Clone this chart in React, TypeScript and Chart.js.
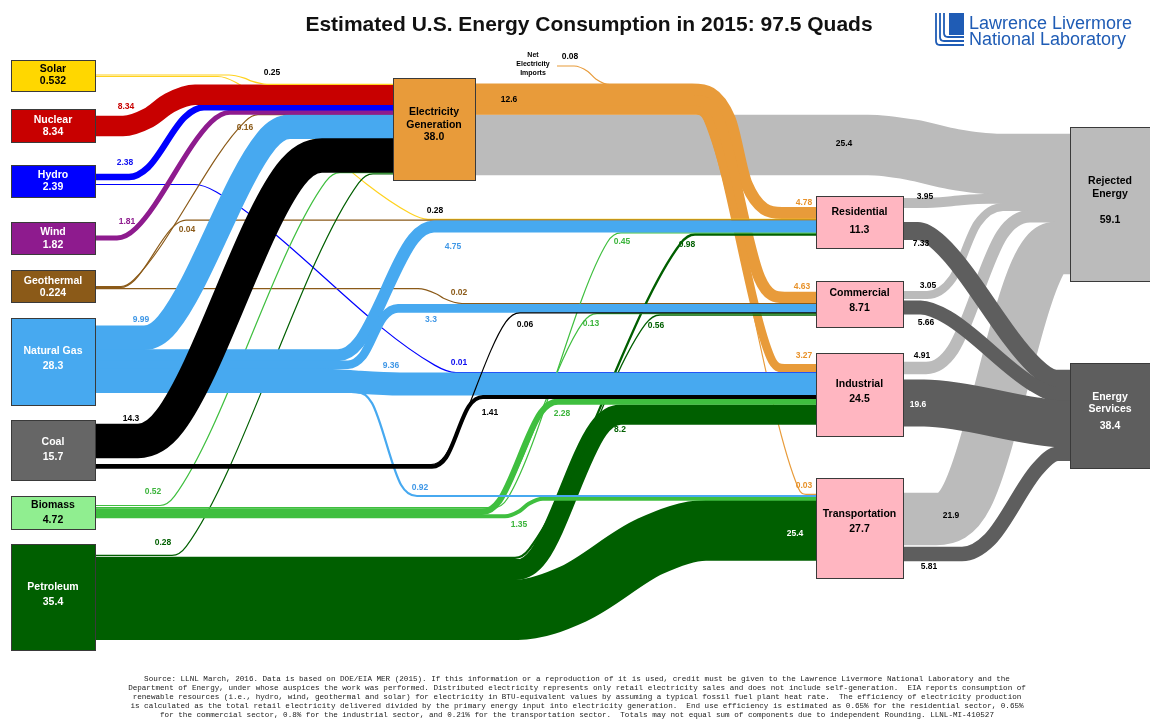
import React, { useEffect, useRef } from 'react';
import { Chart, registerables } from 'chart.js';

Chart.register(...registerables);

// ---------------- DATA (quads) ----------------
const NODES = ['Solar', 'Nuclear', 'Hydro', 'Wind', 'Geothermal', 'Natural Gas', 'Coal', 'Biomass', 'Petroleum',
  'Electricity Generation', 'Residential', 'Commercial', 'Industrial', 'Transportation',
  'Rejected Energy', 'Energy Services', 'Net Electricity Imports'];
const NODE_VALUES = [0.532, 8.34, 2.39, 1.82, 0.224, 28.3, 15.7, 4.72, 35.4,
  38.0, 11.3, 8.71, 24.5, 27.7, 59.1, 38.4, 0.08];

const FLOW_SOURCES = [
  'Electricity Generation', 'Net Electricity Imports', 'Electricity Generation', 'Electricity Generation', 'Electricity Generation', 'Electricity Generation',
  'Solar', 'Hydro', 'Geothermal', 'Geothermal', 'Geothermal',
  'Petroleum', 'Petroleum', 'Petroleum', 'Petroleum', 'Petroleum',
  'Biomass', 'Biomass', 'Biomass', 'Biomass', 'Biomass',
  'Natural Gas', 'Natural Gas', 'Natural Gas', 'Natural Gas', 'Natural Gas',
  'Coal', 'Coal', 'Coal',
  'Wind', 'Hydro', 'Nuclear', 'Solar',
  'Residential', 'Commercial', 'Industrial', 'Transportation',
  'Residential', 'Commercial', 'Industrial', 'Transportation'];
const FLOW_TARGETS = [
  'Rejected Energy', 'Electricity Generation', 'Residential', 'Commercial', 'Industrial', 'Transportation',
  'Residential', 'Industrial', 'Electricity Generation', 'Residential', 'Commercial',
  'Transportation', 'Industrial', 'Residential', 'Commercial', 'Electricity Generation',
  'Electricity Generation', 'Residential', 'Commercial', 'Industrial', 'Transportation',
  'Electricity Generation', 'Residential', 'Commercial', 'Industrial', 'Transportation',
  'Electricity Generation', 'Industrial', 'Commercial',
  'Electricity Generation', 'Electricity Generation', 'Electricity Generation', 'Electricity Generation',
  'Rejected Energy', 'Rejected Energy', 'Rejected Energy', 'Rejected Energy',
  'Energy Services', 'Energy Services', 'Energy Services', 'Energy Services'];
const FLOW_VALUES = [
  25.4, 0.08, 4.78, 4.63, 3.27, 0.03,
  0.28, 0.01, 0.16, 0.04, 0.02,
  25.4, 8.2, 0.98, 0.56, 0.28,
  0.52, 0.45, 0.13, 2.28, 1.35,
  9.99, 4.75, 3.3, 9.36, 0.92,
  14.3, 1.41, 0.06,
  1.81, 2.38, 8.34, 0.25,
  3.95, 3.05, 4.91, 21.9,
  7.33, 5.66, 19.6, 5.81];
const ELECTRICITY_DELIVERED = 12.6;

const TITLE = 'Estimated U.S. Energy Consumption in 2015: 97.5 Quads';
const FOOTNOTE = [
  'Source: LLNL March, 2016. Data is based on DOE/EIA MER (2015). If this information or a reproduction of it is used, credit must be given to the Lawrence Livermore National Laboratory and the',
  'Department of Energy, under whose auspices the work was performed. Distributed electricity represents only retail electricity sales and does not include self-generation.  EIA reports consumption of',
  'renewable resources (i.e., hydro, wind, geothermal and solar) for electricity in BTU-equivalent values by assuming a typical fossil fuel plant heat rate.  The efficiency of electricity production',
  'is calculated as the total retail electricity delivered divided by the primary energy input into electricity generation.  End use efficiency is estimated as 0.65% for the residential sector, 0.65%',
  'for the commercial sector, 0.8% for the industrial sector, and 0.21% for the transportation sector.  Totals may not equal sum of components due to independent Rounding. LLNL-MI-410527',
];

// ---------------- LAYOUT (axis units) ----------------
const W = 1150;
const H = 719;
const QUAD = 2.36; // axis units of band thickness per quad

type Box = { x0: number; y0: number; x1: number; y1: number; fill: string; ink: string; rows: number[]; split?: boolean };
const NODE_LAYOUT: Record<string, Box> = {
  'Solar': { x0: 11, y0: 60, x1: 95, y1: 91, fill: '#FFD700', ink: '#000', rows: [69.5, 81.5] },
  'Nuclear': { x0: 11, y0: 109, x1: 95, y1: 142, fill: '#C80000', ink: '#fff', rows: [120.5, 132.5] },
  'Hydro': { x0: 11, y0: 165, x1: 95, y1: 197, fill: '#0000FF', ink: '#fff', rows: [175, 187] },
  'Wind': { x0: 11, y0: 222, x1: 95, y1: 254, fill: '#8E1B8E', ink: '#fff', rows: [232, 245] },
  'Geothermal': { x0: 11, y0: 270, x1: 95, y1: 302, fill: '#8B5A18', ink: '#fff', rows: [281, 293.5] },
  'Natural Gas': { x0: 11, y0: 318, x1: 95, y1: 405, fill: '#47A9F0', ink: '#fff', rows: [351, 366] },
  'Coal': { x0: 11, y0: 420, x1: 95, y1: 480, fill: '#666666', ink: '#fff', rows: [442, 457] },
  'Biomass': { x0: 11, y0: 496, x1: 95, y1: 529, fill: '#90EE90', ink: '#000', rows: [505, 520] },
  'Petroleum': { x0: 11, y0: 544, x1: 95, y1: 650, fill: '#005F00', ink: '#fff', rows: [587, 602] },
  'Electricity Generation': { x0: 393, y0: 78, x1: 475, y1: 180, fill: '#E89B3A', ink: '#000', rows: [112, 125, 137.5], split: true },
  'Residential': { x0: 816, y0: 196, x1: 903, y1: 248, fill: '#FFB6C1', ink: '#000', rows: [212, 230] },
  'Commercial': { x0: 816, y0: 281, x1: 903, y1: 327, fill: '#FFB6C1', ink: '#000', rows: [293.5, 308.5] },
  'Industrial': { x0: 816, y0: 353, x1: 903, y1: 436, fill: '#FFB6C1', ink: '#000', rows: [384, 399.5] },
  'Transportation': { x0: 816, y0: 478, x1: 903, y1: 578, fill: '#FFB6C1', ink: '#000', rows: [514, 529] },
  'Rejected Energy': { x0: 1070, y0: 127, x1: 1156, y1: 281, fill: '#BBBBBB', ink: '#000', rows: [181, 194.5, 220], split: true },
  'Energy Services': { x0: 1070, y0: 363, x1: 1156, y1: 468, fill: '#5E5E5E', ink: '#fff', rows: [397, 409.5, 426], split: true },
};
const IMPORTS_TEXT = { x: 533, rows: [55, 64, 73], lines: ['Net', 'Electricity', 'Imports'] };

const SOURCE_COLOR: Record<string, string> = {
  'Solar': '#FFD21F', 'Nuclear': '#C80000', 'Hydro': '#0000FF', 'Wind': '#8E1B8E', 'Geothermal': '#8B5A18',
  'Natural Gas': '#47A9F0', 'Coal': '#000000', 'Biomass': '#3FBF3F', 'Petroleum': '#005F00',
  'Electricity Generation': '#E89B3A', 'Net Electricity Imports': '#E89B3A',
};
const LABEL_COLOR: Record<string, string> = {
  'Solar': '#000', 'Nuclear': '#C80000', 'Hydro': '#1010F0', 'Wind': '#8E1B8E', 'Geothermal': '#8B5A18',
  'Natural Gas': '#3F97E6', 'Coal': '#000', 'Biomass': '#3CB43C', 'Petroleum': '#005F00',
  'Electricity Generation': '#E8922A', 'Net Electricity Imports': '#000',
};

type Route = { pts: number[][]; r?: number; label: number[]; ink?: string };
const FLOW_ROUTES: Route[] = [
  { pts: [[475, 145], [890, 145], [975, 164], [1070, 164]], r: 22, label: [844, 144], ink: '#000' },
  { pts: [[557, 66], [582, 66], [602, 84.6], [628, 84.6]], r: 8, label: [570, 57] },
  { pts: [[475, 89.6], [722, 89.6], [754, 213], [816, 213]], r: 30, label: [804, 203] },
  { pts: [[475, 100.8], [713.4, 100.8], [764.6, 297.5], [816, 297.5]], r: 20, label: [802, 287] },
  { pts: [[475, 110], [706.2, 110], [773.4, 368.3], [816, 368.3]], r: 11, label: [804, 356] },
  { pts: [[475, 114.2], [702.7, 114.2], [800, 494.3], [816, 494.3]], r: 6, label: [804, 486] },
  { pts: [[95, 76.5], [228, 76.5], [418, 219.3], [816, 219.3]], r: 10, label: [435, 211] },
  { pts: [[95, 184.5], [207, 184.5], [444, 372.6], [816, 372.6]], r: 12, label: [459, 363] },
  { pts: [[95, 286.5], [129, 286.5], [250, 114.6], [393, 114.6]], r: 8, label: [245, 128] },
  { pts: [[95, 287.5], [129, 287.5], [178, 220.2], [816, 220.2]], r: 8, label: [187, 230] },
  { pts: [[95, 288.7], [428, 288.7], [452, 303.5], [816, 303.5]], r: 10, label: [459, 293] },
  { pts: [[95, 609.6], [548, 609.6], [676, 530.4], [816, 530.4]], r: 30, label: [795, 534], ink: '#fff' },
  { pts: [[95, 569.9], [532, 569.9], [605, 414.7], [816, 414.7]], r: 16, label: [620, 430] },
  { pts: [[95, 557.8], [525, 557.8], [685, 234.5], [816, 234.5]], r: 10, label: [687, 245] },
  { pts: [[95, 559.6], [530, 559.6], [650, 315], [816, 315]], r: 10, label: [656, 326] },
  { pts: [[95, 555.4], [182, 555.4], [363, 173.8], [393, 173.8]], r: 10, label: [163, 543] },
  { pts: [[95, 505.5], [170, 505.5], [330, 172.6], [393, 172.6]], r: 10, label: [153, 492] },
  { pts: [[95, 507.6], [504, 507.6], [611, 232.9], [816, 232.9]], r: 10, label: [622, 242] },
  { pts: [[95, 508.8], [496, 508.8], [587, 313.6], [816, 313.6]], r: 10, label: [591, 324] },
  { pts: [[95, 512], [494, 512], [546, 401.7], [816, 401.7]], r: 12, label: [562, 414] },
  { pts: [[95, 516.3], [513, 516.3], [535, 498.8], [816, 498.8]], r: 8, label: [519, 525] },
  { pts: [[95, 337.8], [160, 337.8], [274, 126.8], [393, 126.8]], r: 16, label: [141, 320] },
  { pts: [[95, 355.2], [352, 355.2], [420, 226.5], [816, 226.5]], r: 14, label: [453, 247] },
  { pts: [[95, 364.7], [358, 364.7], [388, 308.4], [816, 308.4]], r: 10, label: [431, 320] },
  { pts: [[95, 379.7], [330, 379.7], [380, 384], [816, 384]], r: 20, label: [391, 366] },
  { pts: [[95, 391.8], [368, 391.8], [405, 496], [816, 496]], r: 12, label: [420, 488] },
  { pts: [[95, 441], [160, 441], [300, 155.4], [393, 155.4]], r: 22, label: [131, 419] },
  { pts: [[95, 466.6], [442, 466.6], [473, 397], [816, 397]], r: 10, label: [490, 413] },
  { pts: [[95, 464.6], [441, 464.6], [510, 312.8], [816, 312.8]], r: 10, label: [525, 325] },
  { pts: [[95, 238], [129, 238], [218, 112.2], [393, 112.2]], r: 12, label: [127, 222] },
  { pts: [[95, 177], [141, 177], [192, 107.3], [393, 107.3]], r: 12, label: [125, 163] },
  { pts: [[95, 126], [137, 126], [181, 94.8], [393, 94.8]], r: 14, label: [126, 107] },
  { pts: [[95, 75], [237, 75], [259, 84.3], [393, 84.3]], r: 8, label: [272, 73] },
  { pts: [[903, 203], [935, 203], [975, 198.7], [1070, 198.7]], r: 14, label: [925, 197] },
  { pts: [[903, 295], [945, 295], [985, 207], [1070, 207]], r: 18, label: [928, 286] },
  { pts: [[903, 368], [945, 368], [1010, 216.3], [1070, 216.3]], r: 20, label: [922, 356] },
  { pts: [[903, 519], [960, 519], [1043, 248], [1070, 248]], r: 24, label: [951, 516] },
  { pts: [[903, 231], [930, 231], [1045, 378.7], [1070, 378.7]], r: 16, label: [921, 244] },
  { pts: [[903, 307.5], [935, 307.5], [1045, 394], [1070, 394]], r: 16, label: [926, 323] },
  { pts: [[903, 403], [940, 403], [1050, 423.7], [1070, 423.7]], r: 16, label: [918, 405], ink: '#fff' },
  { pts: [[903, 554], [980, 554], [1048, 453.8], [1070, 453.8]], r: 18, label: [929, 567] },
];
const DELIVERED_LABEL = [509, 100];

// ---------------- helpers ----------------
function withCorners(pts: number[][], r: number) {
  const out: { x: number; y: number }[] = [{ x: pts[0][0], y: pts[0][1] }];
  for (let i = 1; i < pts.length - 1; i++) {
    const [ax, ay] = pts[i - 1];
    const [cx, cy] = pts[i];
    const [nx, ny] = pts[i + 1];
    const lin = Math.hypot(cx - ax, cy - ay);
    const lout = Math.hypot(nx - cx, ny - cy);
    const din = Math.min(r, lin * 0.45);
    const dout = Math.min(r, lout * 0.45);
    out.push({ x: cx - ((cx - ax) / lin) * din, y: cy - ((cy - ay) / lin) * din });
    out.push({ x: cx + ((nx - cx) / lout) * dout, y: cy + ((ny - cy) / lout) * dout });
  }
  const last = pts[pts.length - 1];
  out.push({ x: last[0], y: last[1] });
  return out;
}

function quadPx(chart: any) {
  const y = chart && chart.scales && chart.scales.y;
  if (!y || !isFinite(y.getPixelForValue(QUAD))) return QUAD;
  return Math.abs(y.getPixelForValue(QUAD) - y.getPixelForValue(0));
}

function bandWidth(v: number, chart: any) {
  const w = v * quadPx(chart);
  if (w < 1.2) return 1.2;
  return w > 3 ? w + 0.8 : w; // small overlap hides anti-alias seams between stacked bands
}

function flowColor(i: number) {
  if (FLOW_TARGETS[i] === 'Rejected Energy') return '#BBBBBB';
  if (FLOW_TARGETS[i] === 'Energy Services') return '#5E5E5E';
  return SOURCE_COLOR[FLOW_SOURCES[i]];
}

function fmt(v: number) {
  return Number.isInteger(v) ? v.toFixed(1) : String(v);
}

const FONT = '"Liberation Sans", Arial, Helvetica, sans-serif';

const decor = {
  id: 'sankeyDecor',
  afterDatasetsDraw(chart: any) {
    const { ctx } = chart;
    const xs = chart.scales.x;
    const ys = chart.scales.y;
    const px = (v: number) => xs.getPixelForValue(v);
    const py = (v: number) => ys.getPixelForValue(v);
    ctx.save();

    // nodes
    NODES.forEach((name, i) => {
      const b = NODE_LAYOUT[name];
      if (!b) return;
      const x0 = px(b.x0), x1 = px(b.x1), y0 = py(b.y0), y1 = py(b.y1);
      ctx.fillStyle = b.fill;
      ctx.fillRect(x0, y0, x1 - x0, y1 - y0);
      ctx.strokeStyle = '#3a3a3a';
      ctx.lineWidth = 1;
      ctx.strokeRect(Math.round(x0) + 0.5, Math.round(y0) + 0.5, Math.round(x1 - x0), Math.round(y1 - y0));
      const lines = b.split ? [...name.split(' '), fmt(NODE_VALUES[i])] : [name, fmt(NODE_VALUES[i])];
      ctx.fillStyle = b.ink;
      ctx.font = `bold 10.5px ${FONT}`;
      ctx.textAlign = 'center';
      ctx.textBaseline = 'middle';
      const cx = (px(b.x0) + px(Math.min(b.x1, W))) / 2;
      lines.forEach((t, k) => ctx.fillText(t, cx, py(b.rows[k])));
    });

    // net imports caption
    ctx.fillStyle = '#000';
    ctx.font = `bold 7px ${FONT}`;
    ctx.textAlign = 'center';
    ctx.textBaseline = 'middle';
    IMPORTS_TEXT.lines.forEach((t, k) => ctx.fillText(t, px(IMPORTS_TEXT.x), py(IMPORTS_TEXT.rows[k])));

    // flow labels
    ctx.font = `bold 8.5px ${FONT}`;
    FLOW_VALUES.forEach((v, i) => {
      const r = FLOW_ROUTES[i];
      const src = FLOW_SOURCES[i];
      ctx.fillStyle = r.ink || LABEL_COLOR[src] || '#000';
      ctx.fillText(String(v), px(r.label[0]), py(r.label[1]));
    });
    ctx.fillStyle = '#000';
    ctx.fillText(String(ELECTRICITY_DELIVERED), px(DELIVERED_LABEL[0]), py(DELIVERED_LABEL[1]));

    // title
    ctx.font = `bold 21px ${FONT}`;
    ctx.textBaseline = 'alphabetic';
    ctx.fillStyle = '#111';
    ctx.fillText(TITLE, px(589), py(31));

    // logo
    const blue = '#1F5CB5';
    ctx.fillStyle = blue;
    ctx.fillRect(px(949), py(13), px(964) - px(949), py(35) - py(13));
    ctx.strokeStyle = blue;
    ctx.lineWidth = 1.8;
    for (let k = 0; k < 3; k++) {
      const lx = 936 + k * 4;
      const by = 45 - k * 4;
      ctx.beginPath();
      ctx.moveTo(px(lx), py(13));
      ctx.lineTo(px(lx), py(by - 4));
      ctx.quadraticCurveTo(px(lx), py(by), px(lx + 4), py(by));
      ctx.lineTo(px(964), py(by));
      ctx.stroke();
    }
    ctx.textAlign = 'left';
    ctx.font = `18px ${FONT}`;
    ctx.fillText('Lawrence Livermore', px(969), py(28.5));
    ctx.fillText('National Laboratory', px(969), py(45));

    // footnote
    ctx.fillStyle = '#222';
    ctx.textAlign = 'center';
    ctx.textBaseline = 'middle';
    ctx.font = `7.6px "Liberation Mono", "DejaVu Sans Mono", monospace`;
    FOOTNOTE.forEach((t, k) => ctx.fillText(t, px(577), py(679 + k * 9)));

    ctx.restore();
  },
};

export default function App() {
  const ref = useRef<HTMLCanvasElement>(null);
  useEffect(() => {
    const canvas = ref.current;
    if (!canvas) return;
    const datasets = FLOW_VALUES.map((v, i) => {
      const route = FLOW_ROUTES[i];
      return {
        label: `${FLOW_SOURCES[i]} → ${FLOW_TARGETS[i]}`,
        data: withCorners(route.pts, route.r ?? 12),
        borderColor: flowColor(i),
        backgroundColor: flowColor(i),
        borderWidth: (c: any) => bandWidth(v, c.chart),
        borderCapStyle: 'butt' as const,
        borderJoinStyle: 'round' as const,
        cubicInterpolationMode: 'monotone' as const,
        tension: 0,
        pointRadius: 0,
        pointHoverRadius: 0,
        pointHitRadius: 0,
        fill: false,
        order: -i,
      };
    });
    const chart = new Chart(canvas, {
      type: 'line',
      data: { datasets: datasets as any },
      options: {
        animation: false,
        responsive: false,
        devicePixelRatio: 1,
        events: [],
        layout: { padding: 0 },
        parsing: false,
        normalized: true,
        plugins: { legend: { display: false }, tooltip: { enabled: false }, title: { display: false } },
        scales: {
          x: { type: 'linear', min: 0, max: W, display: false },
          y: { type: 'linear', min: 0, max: H, reverse: true, display: false },
        },
      } as any,
      plugins: [decor],
    });
    return () => chart.destroy();
  }, []);
  return (
    <div style={{ position: 'fixed', left: 0, top: 0, width: W, height: H, background: '#fff' }}>
      <canvas ref={ref} width={W} height={H} style={{ display: 'block', width: W, height: H }} />
    </div>
  );
}
